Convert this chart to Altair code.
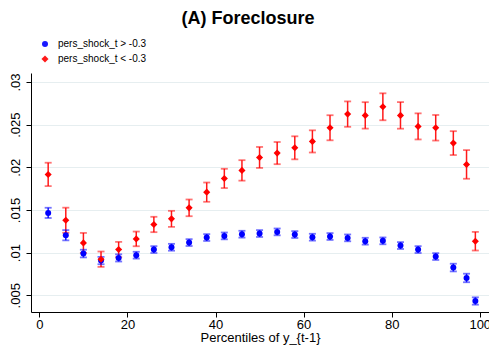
import altair as alt
import pandas as pd

pct = [2, 6, 10, 14, 18, 22, 26, 30, 34, 38, 42, 46, 50, 54, 58, 62, 66, 70, 74, 78, 82, 86, 90, 94, 97, 99]
blue_y = [0.01466, 0.01204, 0.00989, 0.00907, 0.00938, 0.0097, 0.01036, 0.01063, 0.01118, 0.01177, 0.01196,
          0.01216, 0.01224, 0.01243, 0.01212, 0.01181, 0.01189, 0.01173, 0.01134, 0.01138, 0.01083, 0.01036,
          0.00954, 0.00825, 0.00703, 0.00433]
blue_se = [0.0006, 0.0006, 0.00045, 0.00043, 0.00042, 0.0004, 0.0004, 0.0004, 0.0004, 0.0004, 0.0004, 0.0004,
           0.0004, 0.0004, 0.0004, 0.0004, 0.0004, 0.0004, 0.0004, 0.0004, 0.0004, 0.0004, 0.0004, 0.00045,
           0.0005, 0.00043]
red_y = [0.01917, 0.0138, 0.01114, 0.00923, 0.01036, 0.01161, 0.0133, 0.01396, 0.01525, 0.01709, 0.0187,
         0.01964, 0.02116, 0.02167, 0.02229, 0.02304, 0.02464, 0.02624, 0.02609, 0.0271, 0.02609, 0.0248,
         0.02464, 0.02284, 0.02034, 0.01134]
red_se = [0.00137, 0.00147, 0.00117, 0.0009, 0.0009, 0.00086, 0.0009, 0.00094, 0.00098, 0.00113, 0.00113,
          0.0012, 0.00123, 0.0013, 0.00135, 0.0013, 0.00147, 0.00149, 0.00155, 0.00158, 0.00156, 0.00153,
          0.0015, 0.0014, 0.00168, 0.00109]

series_names = ["pers_shock_t > -0.3", "pers_shock_t < -0.3"]
colors = ["#0000ff", "#ff0000"]
shapes = ["circle", "diamond"]
x_ticks = [0, 20, 40, 60, 80, 100]
y_ticks = [0.005, 0.01, 0.015, 0.02, 0.025, 0.03]

rows = []
for name, yv, ses in [(series_names[0], blue_y, blue_se), (series_names[1], red_y, red_se)]:
    for x, y, s in zip(pct, yv, ses):
        rows.append({"pct": x, "val": y, "lo": y - s, "hi": y + s, "series": name})
df = pd.DataFrame(rows)

FONT = "Liberation Sans"
xs = alt.Scale(domain=[-1.9, 102.1], nice=False, zero=False)
ys = alt.Scale(domain=[0.00304, 0.03106], nice=False, zero=False)
cscale = alt.Scale(domain=series_names, range=colors)

base = alt.Chart(df)

xenc = alt.X("pct:Q", scale=xs,
             axis=alt.Axis(values=x_ticks, title="Percentiles of y_{t-1}", grid=False,
                           labelFontSize=13, titleFontSize=13, titleFontWeight="normal",
                           labelPadding=1, titlePadding=0, tickSize=5, domainColor="black",
                           tickColor="black", labelColor="black", titleColor="black",
                           labelFont=FONT, titleFont=FONT))
yenc = alt.Y("val:Q", scale=ys,
             axis=alt.Axis(values=y_ticks, title=None, grid=True, gridColor="#e6eef0",
                           labelExpr="substring(format(datum.value, '.3~f'), 1)",
                           labelAngle=270, labelAlign="center", labelBaseline="bottom",
                           labelFontSize=13, labelPadding=4, tickSize=5, domainColor="black",
                           tickColor="black", labelColor="black", labelFont=FONT))

leg = alt.Legend(orient="none", legendX=9, legendY=-34, title=None,
                 labelFontSize=10, labelFont=FONT, labelColor="black",
                 symbolSize=36, labelOffset=8, rowPadding=5, padding=0,
                 symbolStrokeWidth=0)

rules = base.mark_rule(strokeWidth=1.5, opacity=0.9).encode(
    x=xenc,
    y=alt.Y("lo:Q", scale=ys),
    y2="hi:Q",
    color=alt.Color("series:N", scale=cscale, legend=leg),
)
cap_lo = base.mark_tick(orient="horizontal", size=7, thickness=1.8, opacity=0.55).encode(
    x="pct:Q", y=alt.Y("lo:Q", scale=ys),
    color=alt.Color("series:N", scale=cscale, legend=leg),
)
cap_hi = base.mark_tick(orient="horizontal", size=7, thickness=1.8, opacity=0.55).encode(
    x="pct:Q", y=alt.Y("hi:Q", scale=ys),
    color=alt.Color("series:N", scale=cscale, legend=leg),
)
points = base.mark_point(filled=True, opacity=1).encode(
    x="pct:Q",
    y=yenc,
    color=alt.Color("series:N", scale=cscale, legend=leg),
    shape=alt.Shape("series:N", scale=alt.Scale(domain=series_names, range=shapes), legend=leg),
    size=alt.Size("series:N", scale=alt.Scale(domain=series_names, range=[36, 50]), legend=None),
)

chart = alt.layer(rules, cap_lo, cap_hi, points).properties(
    width=458, height=239,
    padding={"left": 31, "top": 73, "right": 0, "bottom": 34},
    autosize=alt.AutoSizeParams(type="none"),
    title=alt.TitleParams("(A) Foreclosure", fontSize=18, fontWeight="bold", font=FONT,
                          anchor="middle", color="black", offset=11, dx=-12),
    background="white",
).configure_view(stroke=None)

chart.save("out.html", embed_options={"renderer": "svg", "actions": False})
